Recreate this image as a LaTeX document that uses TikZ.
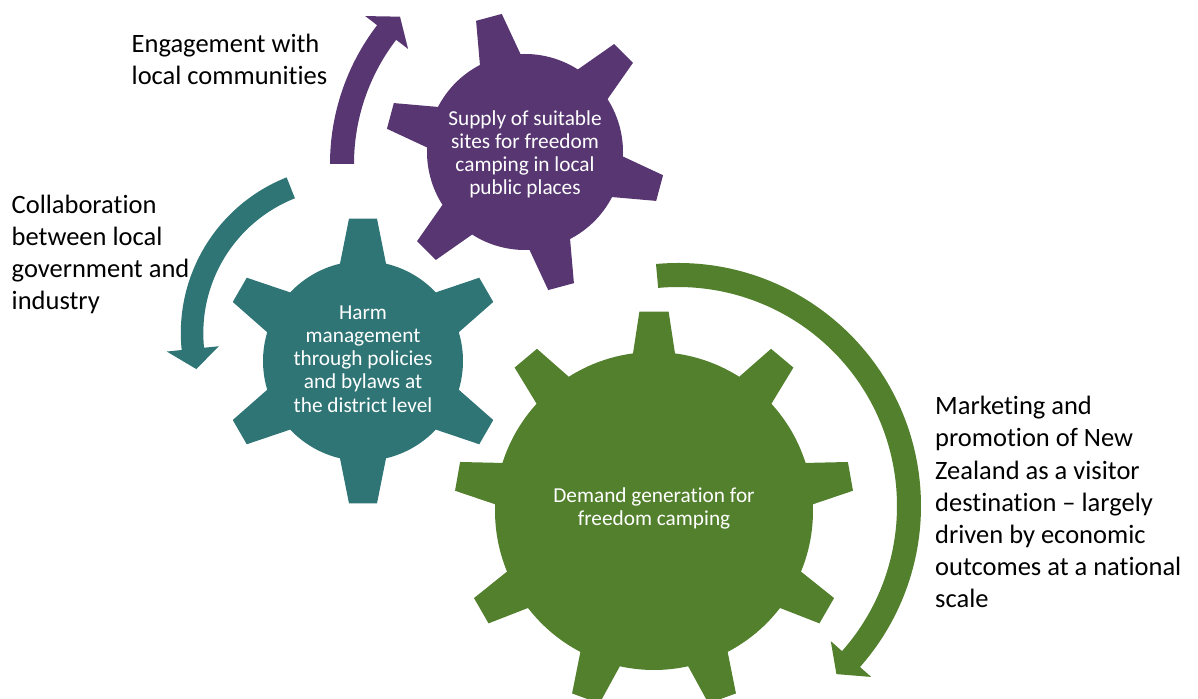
\documentclass[tikz,border=0pt]{standalone}
\usepackage{fontspec}
\setmainfont{Carlito}[Ligatures=NoCommon]
\definecolor{cogpurple}{RGB}{87,54,114}
\definecolor{cogteal}{RGB}{47,117,117}
\definecolor{coggreen}{RGB}{83,128,45}

% cog: hub, body radius, tip radius, teeth, first tooth angle, half width at base, at tip, colour
\newcommand{\cog}[8]{%
  \pgfmathsetmacro{\cogb}{asin(#6/#2)}%
  \pgfmathsetmacro{\cogt}{asin(#7/#3)}%
  \pgfmathsetmacro{\cogs}{360/#4}%
  \fill[#8,shift={(#1)}] ({#5-\cogb}:#2)
    \foreach \k in {1,...,#4}{
      -- ({#5+(\k-1)*\cogs-\cogt}:#3) -- ({#5+(\k-1)*\cogs+\cogt}:#3)
      -- ({#5+(\k-1)*\cogs+\cogb}:#2)
      arc[start angle={#5+(\k-1)*\cogs+\cogb},end angle={#5+\k*\cogs-\cogb},radius=#2]
    } -- cycle;
}
% bent arrow: centre, inner radius, outer radius, tail angle, head angle, tip angle, colour
\newcommand{\bentarrow}[7]{%
  \pgfmathsetmacro{\barmid}{(#2+#3)/2}%
  \fill[#7,shift={(#1)}] ({#4}:#3) arc[start angle=#4,end angle=#5,radius=#3]
    -- ({#5}:{#3+15}) -- ({#6}:\barmid) -- ({#5}:{#2-15}) -- ({#5}:#2)
    arc[start angle=#5,end angle=#4,radius=#2] -- cycle;
}

\begin{document}
\begin{tikzpicture}[
  x=1pt,y=1pt,
  cogtext/.style={text=white,align=center,inner sep=0pt,font=\fontsize{21.3}{23.2}\selectfont},
  note/.style={align=left,anchor=base west,inner sep=0pt,font=\fontsize{26.5}{32.2}\selectfont}
]
\useasboundingbox (0,0) rectangle (1198,698);

\coordinate (purplehub) at (525,546);
\coordinate (tealhub) at (363,337);
\coordinate (greenhub) at (654,187);
\coordinate (purplearc) at (558,534);
\coordinate (tealarc) at (348.3,364.9);
\coordinate (greenarc) at (678,192);

% the three cogs
\cog{purplehub}{98}{140}{6}{105}{21}{13.3}{cogpurple}
\cog{tealhub}{100}{143}{6}{90}{23}{14}{cogteal}
\cog{greenhub}{159}{200}{9}{90}{21}{14.6}{coggreen}

% arrows turning round them
\bentarrow{purplearc}{204}{228}{180}{142.5}{137}{cogpurple}
\bentarrow{tealarc}{145}{167.5}{111.6}{185.8}{193.3}{cogteal}
\bentarrow{greenarc}{219}{243}{95.2}{-41.5}{-46.7}{coggreen}

\node[cogtext] (supply) at ([yshift=-2.5]purplehub) {Supply of suitable\\sites for freedom\\camping in local\\public places};
\node[cogtext] (harm) at ([yshift=2]tealhub) {Harm\\management\\through policies\\and bylaws at\\the district level};
\node[cogtext] (demand) at ([yshift=2.5]greenhub) {Demand generation for\\freedom camping};

% last baselines of the side notes
\node[note] (engage) at (131.5,613.3) {Engagement with\\local communities};
\node[note] (collab) at (11.5,388.3) {Collaboration\\between local\\government and\\industry};
\node[note] (market) at (935,90) {Marketing and\\promotion of New\\Zealand as a visitor\\destination -- largely\\driven by economic\\outcomes at a national\\scale};
\end{tikzpicture}
\end{document}
